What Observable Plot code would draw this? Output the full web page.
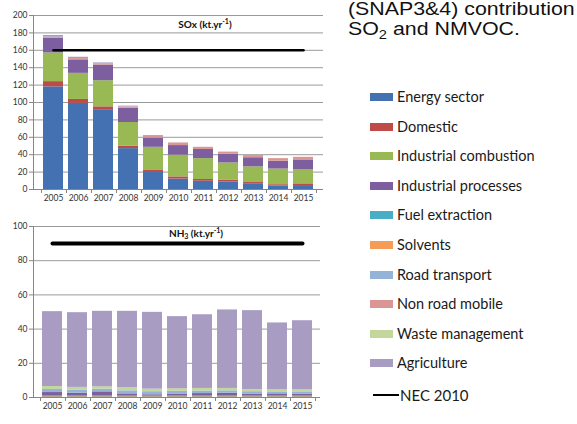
<!DOCTYPE html>
<html>
<head>
<meta charset="utf-8">
<script src="https://cdn.jsdelivr.net/npm/d3@7"></script>
<script src="https://cdn.jsdelivr.net/npm/@observablehq/plot@0.6"></script>
<style>
  html, body { margin: 0; padding: 0; background: #fff; }
  #page { position: relative; width: 577px; height: 424px; overflow: hidden; background: #fff; }
  .abs { position: absolute; }
  #head { left: 348px; top: 0px; font-family: "Liberation Sans", Arial, sans-serif; font-size: 17.5px; line-height: 19.5px;
          color: #111; white-space: nowrap; transform: scaleX(1.22); transform-origin: 0 0; }
  #head sub { font-size: 12px; vertical-align: -4px; line-height: 0; }
  .ctitle { font-family: Lato, sans-serif; font-weight: bold; font-size: 10px; color: #111; white-space: nowrap; transform: translateX(-50%); }
  .ctitle sup { font-size: 7px; vertical-align: 4px; line-height: 0; }
  .ctitle sub { font-size: 7px; vertical-align: -2px; line-height: 0; }
  #legend { left: 370px; top: 0; font-family: Lato, sans-serif; font-size: 14.5px; color: #1a1a1a; }
  .item { position: absolute; left: 0; white-space: nowrap; height: 16px; line-height: 16px; }
  .sw { position: absolute; left: 0; top: 4px; width: 23px; height: 8px; }
  .ln { position: absolute; left: 3px; top: 7px; width: 26px; height: 2px; background: #000; }
  .lab { position: absolute; left: 27px; top: 0; }
</style>
</head>
<body>
<div id="page">
  <div id="top" class="abs" style="left:0;top:0"></div>
  <div id="bottom" class="abs" style="left:0;top:200px"></div>
  <div id="head" class="abs">(SNAP3&amp;4) contribution<br>SO<sub>2</sub> and NMVOC.</div>
  <div class="abs ctitle" style="left:205px;top:18px">SOx (kt.yr<sup>-1</sup>)</div>
  <div class="abs ctitle" style="left:196px;top:227px">NH<sub>3</sub> (kt.yr<sup>-1</sup>)</div>
  <div id="legend" class="abs"></div>
</div>
<script>
const years = ["2005","2006","2007","2008","2009","2010","2011","2012","2013","2014","2015"];
const sectors = ["Energy sector","Domestic","Industrial combustion","Industrial processes","Fuel extraction",
                 "Solvents","Road transport","Non road mobile","Waste management","Agriculture"];
const sectorColors = ["#4471b2","#be4b48","#98b954","#7d5fa0","#4bacc6","#f59d56","#95b3d7","#d99694","#c3d69b","#a99cc2"];
const necLabel = "NEC 2010";

// SOx (kt/yr) per sector
const soxEnergy   = [118, 99, 91, 47, 19.5, 12, 9.5, 8.5, 6, 4, 4.5];
const soxDomestic = [6, 4.5, 4, 3, 3, 2.5, 2, 2, 2, 1.5, 2];
const soxIndComb  = [33, 30, 30, 27, 26, 25, 24, 20, 18, 18, 16];
const soxIndProc  = [17, 15.5, 18, 16.5, 10.5, 11, 10.5, 10, 10.5, 9, 11.5];
const soxFuel     = [0, 0, 0, 0, 0, 0, 0, 0, 0, 0, 0];
const soxSolvents = [0, 0, 0, 0, 0, 0, 0, 0, 0, 0, 0];
const soxRoad     = [0, 0, 0, 0, 0, 0, 0, 0, 0, 0, 0];
const soxNonRoad  = [1, 1.5, 1.5, 1.5, 3, 3, 2.5, 2.5, 2.5, 3, 3];
const soxWaste    = [0, 0, 0, 0, 0, 0, 0, 0, 0, 0, 0];
const soxAgri     = [2, 1.5, 1, 0.8, 0, 0, 0, 0, 0, 0, 0];
const soxNec = 160;
const soxTicks = [0,20,40,60,80,100,120,140,160,180,200];

// NH3 (kt/yr) per sector
const nh3Energy   = [0.2, 0.2, 0.2, 0.2, 0.2, 0.2, 0.2, 0.2, 0.2, 0.2, 0.2];
const nh3Domestic = [0.2, 0.2, 0.2, 0.2, 0.2, 0.2, 0.2, 0.2, 0.2, 0.2, 0.2];
const nh3IndComb  = [0.4, 0.4, 0.4, 0.4, 0.4, 0.4, 0.4, 0.4, 0.4, 0.4, 0.4];
const nh3IndProc  = [2.1, 1.7, 2.5, 1.3, 0.8, 1.0, 1.5, 1.7, 1.2, 1.3, 1.2];
const nh3Fuel     = [0, 0, 0, 0, 0, 0, 0, 0, 0, 0, 0];
const nh3Solvents = [0, 0, 0, 0, 0, 0, 0, 0, 0, 0, 0];
const nh3Road     = [1.8, 1.7, 1.5, 1.8, 1.8, 1.8, 1.5, 1.4, 1.4, 1.2, 1.3];
const nh3NonRoad  = [0, 0, 0, 0, 0, 0, 0, 0, 0, 0, 0];
const nh3Waste    = [1.7, 1.7, 1.45, 1.8, 1.5, 1.5, 1.5, 1.4, 1.3, 1.2, 1.2];
const nh3Agri     = [43.8, 43.7, 44.15, 44.7, 44.9, 42.2, 43.1, 45.9, 46.1, 39.1, 40.4];
const nh3Nec = 90;
const nh3Ticks = [0,20,40,60,80,100];

function rows(series) {
  const out = [];
  years.forEach((yr, i) => sectors.forEach((s, j) => out.push({year: yr, sector: s, value: series[j][i]})));
  return out;
}
const soxRows = rows([soxEnergy, soxDomestic, soxIndComb, soxIndProc, soxFuel, soxSolvents, soxRoad, soxNonRoad, soxWaste, soxAgri]);
const nh3Rows = rows([nh3Energy, nh3Domestic, nh3IndComb, nh3IndProc, nh3Fuel, nh3Solvents, nh3Road, nh3NonRoad, nh3Waste, nh3Agri]);

// axis line + category-boundary ticks, drawn from the library's x scale
function frameTicks(index, scales, values, dim) {
  const x = scales.x;
  const bw = x.bandwidth ? x.bandwidth() : 0;
  const step = x(years[1]) - x(years[0]);
  const half = (step - bw) / 2;
  const yb = dim.height - dim.marginBottom;
  const g = d3.create("svg:g").attr("stroke", "#868686").attr("fill", "none");
  g.append("line").attr("x1", dim.marginLeft + 0.5).attr("x2", dim.marginLeft + 0.5)
    .attr("y1", dim.marginTop).attr("y2", yb);
  g.append("line").attr("x1", dim.marginLeft).attr("x2", dim.width - dim.marginRight)
    .attr("y1", yb + 0.5).attr("y2", yb + 0.5);
  const bounds = years.map(y => x(y) - half);
  bounds.push(x(years[years.length - 1]) + bw + half);
  for (const b of bounds) {
    g.append("line").attr("x1", Math.round(b) + 0.5).attr("x2", Math.round(b) + 0.5)
      .attr("y1", yb).attr("y2", yb + 4);
  }
  return g.node();
}

function chart({data, yMax, ticks, nec, necWidth, height, marginTop, marginBottom, marginRight, padding}) {
  return Plot.plot({
    width: 330, height, marginLeft: 33, marginRight, marginTop, marginBottom,
    style: {fontFamily: "Lato, sans-serif", fontSize: "8.5px", color: "#404040", background: "transparent"},
    x: {domain: years, padding, label: null},
    y: {domain: [0, yMax], label: null},
    color: {domain: sectors, range: sectorColors},
    marks: [
      Plot.gridY(ticks, {stroke: "#9a9a9a", strokeOpacity: 1}),
      Plot.axisY(ticks, {tickSize: 4, tickPadding: 2, stroke: "#868686", fill: "#333", label: null}),
      Plot.axisX({tickSize: 0, tickPadding: 5, fill: "#333", label: null}),
      Plot.barY(data, {x: "year", y: "value", fill: "sector", order: sectors}),
      Plot.lineY(years.map(y => ({year: y, value: nec})), {x: "year", y: "value", stroke: "#000", strokeWidth: necWidth}),
      frameTicks
    ]
  });
}

document.getElementById("top").append(chart({
  data: soxRows, yMax: 200, ticks: soxTicks, nec: soxNec, necWidth: 2.5,
  height: 205, marginTop: 15, marginBottom: 16, marginRight: 7, padding: 0.2
}));
document.getElementById("bottom").append(chart({
  data: nh3Rows, yMax: 100, ticks: nh3Ticks, nec: nh3Nec, necWidth: 4,
  height: 215, marginTop: 26, marginBottom: 18, marginRight: 10, padding: 0.22
}));

// legend
const legend = document.getElementById("legend");
sectors.forEach((s, i) => {
  const it = document.createElement("div");
  it.className = "item";
  it.style.top = (89 + i * 29.6) + "px";
  it.innerHTML = `<div class="sw" style="background:${sectorColors[i]}"></div><span class="lab">${s}</span>`;
  legend.append(it);
});
const nec = document.createElement("div");
nec.className = "item";
nec.style.top = (387) + "px";
nec.innerHTML = `<div class="ln"></div><span class="lab" style="left:30px;font-size:15px">${necLabel}</span>`;
legend.append(nec);
</script>
</body>
</html>
